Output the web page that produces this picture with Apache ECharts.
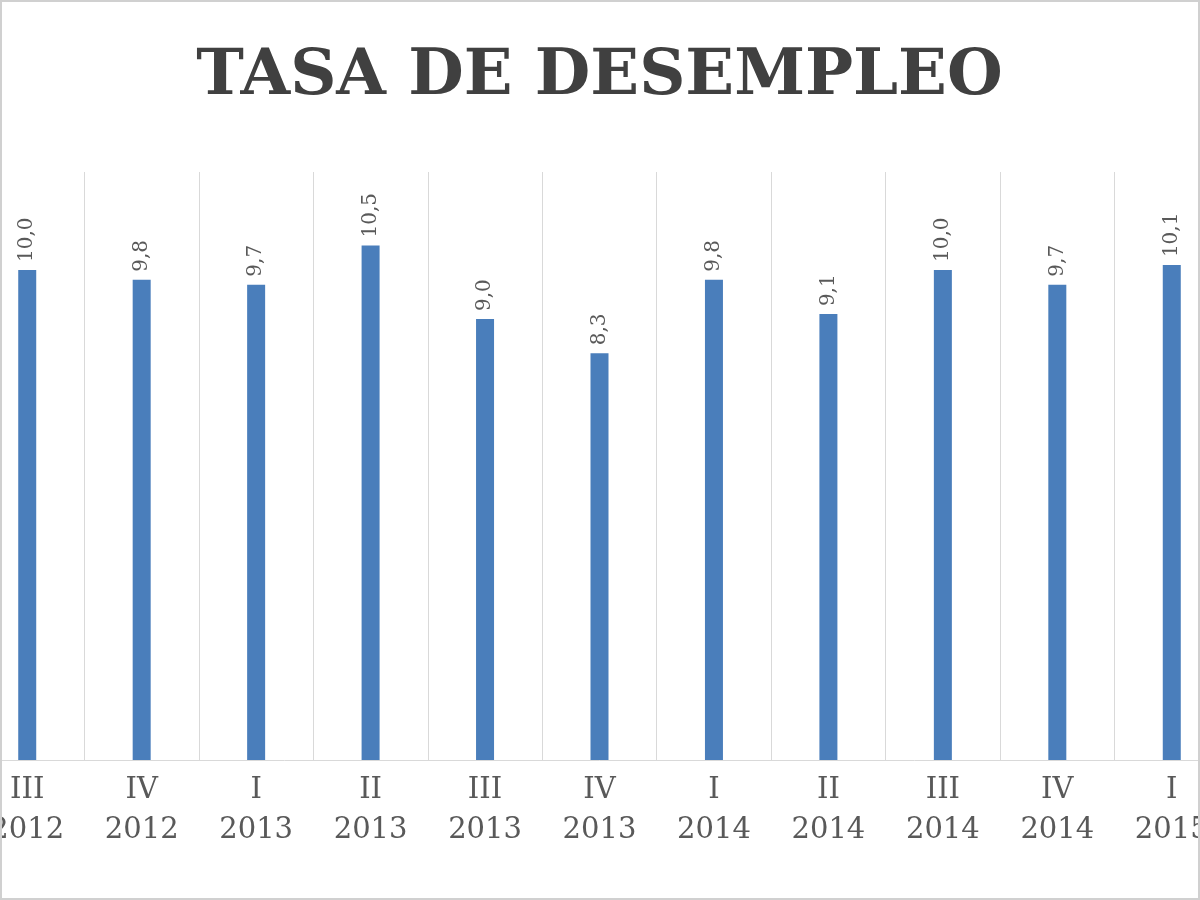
<!DOCTYPE html>
<html><head><meta charset="utf-8">
<script src="https://cdn.jsdelivr.net/npm/echarts@6/dist/echarts.min.js"></script>
<style>html,body{margin:0;padding:0;background:#fff}
#w{width:1200px;height:900px;box-sizing:border-box;border:2px solid #d0d0d0;overflow:hidden;position:relative}
#c{position:absolute;left:-32px;top:-2px;width:1259px;height:900px}</style>
</head><body><div id="w"><div id="c"></div></div>
<script>
const quarters = ["III","IV","I","II","III","IV","I","II","III","IV","I"];
const years = ["2012","2012","2013","2013","2013","2013","2014","2014","2014","2014","2015"];
const rates = [10.0,9.8,9.7,10.5,9.0,8.3,9.8,9.1,10.0,9.7,10.1];
const categories = quarters.map((q,i)=>q+"\n"+years[i]);
const chart = echarts.init(document.getElementById('c'));
chart.setOption({
  animation:false,
  title:{text:"TASA DE DESEMPLEO",left:'center',top:40,
    textStyle:{fontFamily:"DejaVu Serif",fontWeight:'bold',fontSize:64,color:'#404040'}},
  grid:{left:0,right:0,top:172,bottom:140},
  xAxis:{type:'category',data:categories,
    axisLine:{lineStyle:{color:'#d9d9d9'}},axisTick:{show:false},
    splitLine:{show:true,lineStyle:{color:'#d9d9d9',width:1}},
    axisLabel:{fontFamily:"DejaVu Serif",fontSize:29,color:'#595959',lineHeight:40,margin:10,interval:0}},
  yAxis:{type:'value',min:0,max:12,show:false,splitLine:{show:false}},
  series:[{type:'bar',data:rates,barWidth:18,itemStyle:{color:'#4a7ebb'},
    label:{show:true,position:'top',rotate:90,align:'left',verticalAlign:'middle',distance:8,
      fontFamily:"DejaVu Serif",fontSize:20,color:'#595959',
      formatter:p=>p.value.toFixed(1).replace('.',',')}}]
});
</script></body></html>
